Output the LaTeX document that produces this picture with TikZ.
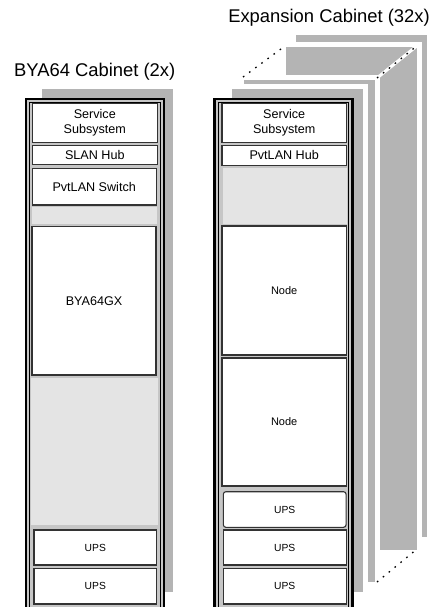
\documentclass[tikz,border=0pt]{standalone}
\usepackage{fontspec}
\setmainfont{Liberation Sans}
\definecolor{shadowgray}{HTML}{B4B4B4}
\definecolor{framegray}{HTML}{C6C6C6}
\definecolor{slotgray}{HTML}{E4E4E4}
\definecolor{boxline}{HTML}{333333}
\tikzset{
  unit/.style={draw=boxline, line width=1.1pt, fill=white, inner sep=0pt, align=center,
    font=\fontsize{12.6}{15}\selectfont},
  smallunit/.style={unit, font=\fontsize{10.3}{12}\selectfont},
  nodeunit/.style={unit, font=\fontsize{11}{13}\selectfont},
  title/.style={font=\fontsize{18.4}{20}\selectfont, anchor=base, inner sep=0pt},
  outerframe/.style={draw=black, line width=2.2pt, fill=framegray},
  innerframe/.style={draw=black, line width=0.8pt},
  slot/.style={fill=slotgray},
  layer/.style={fill=shadowgray},
  gapline/.style={white, line width=3pt},
  dotline/.style={black, line width=1.3pt, dash pattern=on 1.6pt off 6pt}
}
\begin{document}
\begin{tikzpicture}[x=1pt,y=-1pt]
\useasboundingbox (0,0) rectangle (432,607);
% titles
\node[title] (t1) at (94.7,77) {BYA64 Cabinet (2x)};
\node[title] (t2) at (329,22.7) {Expansion Cabinet (32x)};

% ---------- left cabinet ----------
\fill[layer] (42,89) rectangle (173.3,592);
\draw[outerframe] (25.8,98.8) rectangle (163.8,640);
\draw[innerframe] (29.8,102.4) rectangle (159.9,640);
\fill[slot] (32.3,206.7) rectangle (156.7,223.5);
\fill[slot] (31,378) rectangle (157.5,525);
\node[unit, minimum width=125, minimum height=38.7] (ssA) at (94.8,122.7) {Service\\Subsystem};
\node[unit, minimum width=125, minimum height=18.6] (slan) at (94.8,155) {SLAN Hub};
\node[unit, minimum width=123.7, minimum height=36.3] (pvs) at (94.2,186.8) {PvtLAN Switch};
\node[unit, minimum width=124, minimum height=148.3] (bya) at (94,300.8) {BYA64GX};
\node[smallunit, minimum width=122.7, minimum height=35] (upsA) at (95.3,547.5) {UPS};
\node[smallunit, minimum width=122.7, minimum height=35.3] (upsB) at (95.3,586.3) {UPS};

% ---------- expansion cabinet stack ----------
\fill[layer] (296,35) rectangle (427,537);
\fill[white] (281,42) rectangle (422,555);
\fill[layer] (286,47) rectangle (417,550);
\fill[white] (239,75) rectangle (380,587);
\fill[layer] (244,80) rectangle (375,582);
\fill[white] (226.7,84) rectangle (368,597);
\fill[layer] (231.7,89) rectangle (363,592);
\coordinate (d1a) at (243,77); \coordinate (d1b) at (285,46);
\coordinate (d2a) at (377,78); \coordinate (d2b) at (418,45);
\coordinate (d3a) at (377,582); \coordinate (d3b) at (417,549);
\draw[gapline] (d2a) -- (d2b);
\draw[dotline] (d1a) -- (d1b);
\draw[dotline] (d2a) -- (d2b);
\draw[dotline] (d3a) -- (d3b);

% ---------- expansion cabinet front ----------
\draw[outerframe] (214.5,98.8) rectangle (352.5,640);
\draw[innerframe] (218.5,102.4) rectangle (348.6,640);
\fill[slot] (222.5,167.5) rectangle (346.5,224);
\node[unit, minimum width=124.5, minimum height=39.4] (ssB) at (284.2,123) {Service\\Subsystem};
\node[unit, minimum width=124.5, minimum height=19.7] (phub) at (284.2,155.2) {PvtLAN Hub};
\node[nodeunit, minimum width=124.5, minimum height=129] (n1) at (284.2,290.5) {Node};
\node[nodeunit, minimum width=124.5, minimum height=128] (n2) at (284.2,422) {Node};
\node[smallunit, rounded corners=2.5pt, minimum width=122.7, minimum height=35.6] (upsC) at (284.7,509.5) {UPS};
\node[smallunit, minimum width=122.7, minimum height=35] (upsD) at (284.7,547.5) {UPS};
\node[smallunit, minimum width=122.7, minimum height=35.3] (upsE) at (284.7,586.3) {UPS};
\end{tikzpicture}
\end{document}
